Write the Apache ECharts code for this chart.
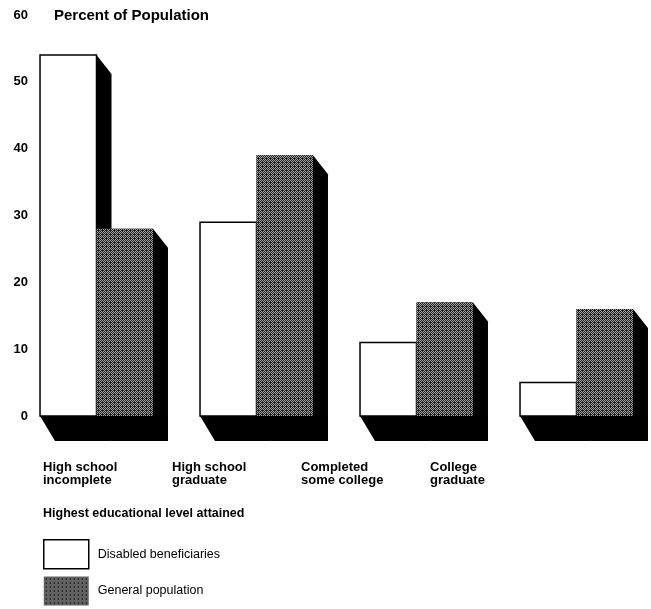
<!DOCTYPE html>
<html>
<head>
<meta charset="utf-8">
<script src="https://cdn.jsdelivr.net/npm/echarts@6/dist/echarts.min.js"></script>
<style>html,body{margin:0;padding:0;background:#fff;}#c{width:651px;height:609px;}</style>
</head>
<body>
<div id="c"></div>
<script>
// ---- data ----
const categories = ['High school\nincomplete', 'High school\ngraduate', 'Completed\nsome college', 'College\ngraduate'];
const disabled = [54, 29, 11, 5];
const general = [28, 39, 17, 16];
const seriesNames = ['Disabled beneficiaries', 'General population'];
const yTicks = [0, 10, 20, 30, 40, 50, 60];
const yTitle = 'Percent of Population';
const xTitle = 'Highest educational level attained';

// ---- styling ----
const FONT = 'Liberation Sans, Arial, Helvetica, sans-serif';
function makePattern() {
  const c = document.createElement('canvas');
  c.width = 4; c.height = 4;
  const ctx = c.getContext('2d');
  ctx.fillStyle = '#1c1c1c';
  ctx.fillRect(0, 0, 4, 4);
  ctx.fillStyle = '#a8a8a8';
  for (let y = 0; y < 4; y++) for (let x = 0; x < 4; x++) {
    if ((x + y) % 2 === 0 && !(x === 2 && y === 2)) ctx.fillRect(x, y, 1, 1);
  }
  return { image: c, repeat: 'repeat' };
}
const grayFill = makePattern();
const DX = 15, DYT = 19, DYB = 25;

function makeRender(side) {
  return function (params, api) {
    const i = api.value(0);
    const v = api.value(1);
    const base = api.coord([i, 0]);
    const top = api.coord([i, v]);
    const W = api.size([1, 0])[0] * 0.353;
    const cx = base[0];
    const x0 = side === 0 ? cx - W : cx;
    const x1 = side === 0 ? cx : cx + W;
    const yt = top[1], yb = base[1];
    const shadow = {
      type: 'polygon',
      shape: { points: [[x0, yt], [x1, yt], [x1 + DX, yt + DYT], [x1 + DX, yb + DYB], [x0 + DX, yb + DYB], [x0, yb]] },
      style: { fill: '#000' }
    };
    const face = {
      type: 'rect',
      shape: { x: x0, y: yt, width: x1 - x0, height: yb - yt },
      style: side === 0
        ? { fill: '#fff', stroke: '#000', lineWidth: 1.5 }
        : { fill: grayFill, stroke: null }
    };
    return { type: 'group', children: [shadow, face] };
  };
}

const chart = echarts.init(document.getElementById('c'), null, { renderer: 'canvas' });
chart.setOption({
  animation: false,
  backgroundColor: '#fff',
  textStyle: { fontFamily: FONT },
  title: [
    { text: yTitle, left: 54, top: 8, padding: 0, textStyle: { fontFamily: FONT, fontSize: 15, fontWeight: 'bold', color: '#000' } },
    { text: xTitle, left: 43, top: 507, padding: 0, textStyle: { fontFamily: FONT, fontSize: 12.5, fontWeight: 'bold', color: '#000' } }
  ],
  legend: {
    orient: 'vertical', left: 43, top: 539, padding: 0,
    itemWidth: 45, itemHeight: 29, itemGap: 7,
    icon: 'rect',
    textStyle: { fontFamily: FONT, fontSize: 12.5, color: '#000', padding: [0, 0, 0, 4] },
    data: [
      { name: seriesNames[0], itemStyle: { color: '#fff', borderColor: '#000', borderWidth: 1.5 } },
      { name: seriesNames[1], itemStyle: { color: grayFill, borderWidth: 0 } }
    ]
  },
  grid: [
    { left: 96.5, width: 480, top: 15, height: 401 },
    { left: 43, width: 387, top: 15, height: 401 }
  ],
  xAxis: [
    { type: 'category', gridIndex: 0, data: categories, boundaryGap: false,
      axisLine: { show: false }, axisTick: { show: false }, axisLabel: { show: false }, splitLine: { show: false } },
    { type: 'category', gridIndex: 1, data: categories, boundaryGap: false,
      axisLine: { show: false }, axisTick: { show: false }, splitLine: { show: false },
      axisLabel: { show: true, interval: 0, align: 'left', verticalAlign: 'top', margin: 45,
        fontFamily: FONT, fontSize: 13, fontWeight: 'bold', lineHeight: 13, color: '#000' } }
  ],
  yAxis: [
    { type: 'value', gridIndex: 0, min: yTicks[0], max: yTicks[yTicks.length - 1], interval: 10,
      axisLine: { show: false }, axisTick: { show: false }, splitLine: { show: false },
      axisLabel: { margin: 68.5, fontFamily: FONT, fontSize: 13, fontWeight: 'bold', color: '#000', padding: [3, 0, 0, 0] } },
    { type: 'value', gridIndex: 1, min: 0, max: 60, show: false }
  ],
  series: [
    { name: seriesNames[0], type: 'custom', xAxisIndex: 0, yAxisIndex: 0,
      itemStyle: { color: '#fff', borderColor: '#000', borderWidth: 1.5 },
      renderItem: makeRender(0), data: disabled.map((v, i) => [i, v]), z: 2 },
    { name: seriesNames[1], type: 'custom', xAxisIndex: 0, yAxisIndex: 0,
      itemStyle: { color: grayFill },
      renderItem: makeRender(1), data: general.map((v, i) => [i, v]), z: 3 }
  ]
});
</script>
</body>
</html>
